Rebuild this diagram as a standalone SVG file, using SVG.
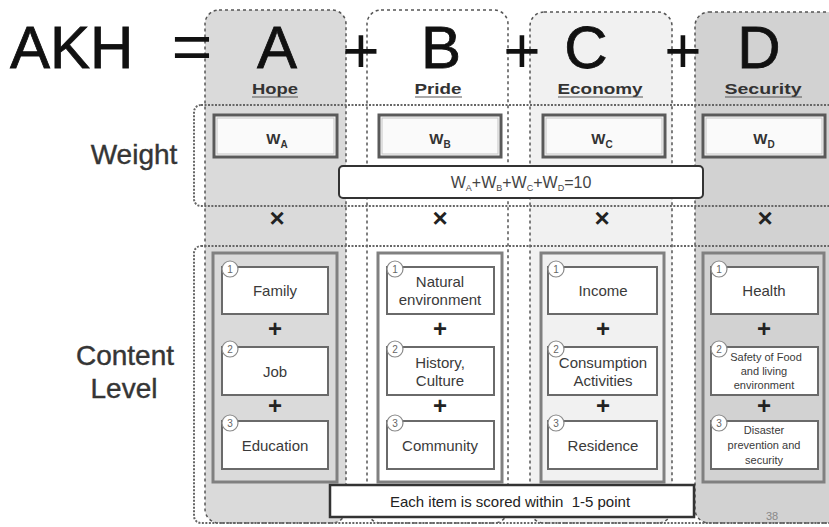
<svg xmlns="http://www.w3.org/2000/svg" width="829" height="527" viewBox="0 0 829 527">
  <style>
    text { font-family: "Liberation Sans", Arial, sans-serif; }
    .col { stroke: #555; stroke-width: 1.5; stroke-dasharray: 3 3; }
    .row { fill: none; stroke: #666; stroke-width: 2; stroke-dasharray: 2 1.5; }
    .big { font-size: 60px; fill: #111; text-anchor: middle; stroke: #111; stroke-width: 0.8; }
    .op { font-size: 64px; fill: #111; text-anchor: middle; }
    .sub { font-size: 15px; font-weight: bold; fill: #333; text-anchor: middle; }
    .uline { stroke: #555; stroke-width: 1.2; }
    .side { font-size: 28px; fill: #353535; text-anchor: middle; stroke: #353535; stroke-width: 0.4; }
    .wbox { fill: #fafafa; stroke: #5a5a5a; stroke-width: 3; }
    .wbin { fill: none; stroke: #c4c4c4; stroke-width: 1; }
    .wt { font-size: 15px; font-weight: bold; fill: #333; text-anchor: middle; }
    .times { font-size: 26px; font-weight: bold; fill: #222; text-anchor: middle; }
    .inner { fill: none; stroke: #808080; stroke-width: 3; }
    .item { fill: #fff; stroke: #6a6a6a; stroke-width: 2; }
    .it { font-size: 15px; fill: #3a3a3a; text-anchor: middle; }
    .its { font-size: 11px; fill: #3a3a3a; text-anchor: middle; }
    .num { fill: #fff; stroke: #8a8a8a; stroke-width: 1.2; }
    .nt { font-size: 10px; fill: #666; text-anchor: middle; }
    .plus { font-size: 24px; font-weight: bold; fill: #222; text-anchor: middle; }
    .note { fill: #fff; stroke: #333; stroke-width: 2.5; }
  </style>

  <rect width="829" height="527" fill="#fff"/>

  <!-- column backgrounds -->
  <g id="columns">
    <rect id="col-a" class="col" x="205" y="10" width="141" height="513" rx="14" fill="#dadada"/>
    <rect id="col-b" class="col" x="367" y="10" width="141" height="513" rx="14" fill="#ffffff"/>
    <rect id="col-c" class="col" x="530" y="12" width="142" height="511" rx="14" fill="#f1f1f1"/>
    <rect id="col-d" class="col" x="695" y="12" width="150" height="511" rx="14" fill="#d2d2d2"/>
  </g>

  <!-- equation header -->
  <g id="equation">
    <text x="10" y="68" font-size="60" fill="#111" stroke="#111" stroke-width="0.8">AKH</text>
    <text x="192" y="69" class="op" textLength="41" lengthAdjust="spacingAndGlyphs">=</text>
    <text x="277" y="68" class="big">A</text>
    <text x="361" y="73" class="op">+</text>
    <text x="441" y="68" class="big">B</text>
    <text x="522" y="73" class="op">+</text>
    <text x="586" y="68" class="big">C</text>
    <text x="683" y="73" class="op">+</text>
    <text x="759" y="68" class="big">D</text>
  </g>

  <!-- factor names -->
  <g id="factor-names">
    <text x="275" y="94" class="sub" textLength="46" lengthAdjust="spacingAndGlyphs">Hope</text>
    <line class="uline" x1="252" y1="97" x2="298" y2="97"/>
    <text x="438" y="94" class="sub" textLength="47" lengthAdjust="spacingAndGlyphs">Pride</text>
    <line class="uline" x1="415" y1="97" x2="462" y2="97"/>
    <text x="600" y="94" class="sub" textLength="85" lengthAdjust="spacingAndGlyphs">Economy</text>
    <line class="uline" x1="558" y1="97" x2="643" y2="97"/>
    <text x="763" y="94" class="sub" textLength="77" lengthAdjust="spacingAndGlyphs">Security</text>
    <line class="uline" x1="725" y1="97" x2="802" y2="97"/>
  </g>

  <!-- row frames -->
  <g id="rows">
    <rect class="row" x="194" y="105" width="650" height="101" rx="7"/>
    <rect class="row" x="194" y="246" width="650" height="277" rx="7"/>
  </g>

  <!-- side labels -->
  <g id="labels">
    <text x="134" y="164" class="side">Weight</text>
    <text x="125" y="365" class="side">Content</text>
    <text x="124" y="398" class="side">Level</text>
  </g>

  <!-- weight boxes -->
  <g id="weight-a">
    <rect class="wbox" x="214" y="115" width="123" height="42"/>
    <rect class="wbin" x="217" y="118" width="117" height="36"/>
    <text x="277" y="144" class="wt">W<tspan font-size="10" dy="4">A</tspan></text>
  </g>
  <g id="weight-b">
    <rect class="wbox" x="379" y="115" width="122" height="42"/>
    <rect class="wbin" x="382" y="118" width="116" height="36"/>
    <text x="440" y="144" class="wt">W<tspan font-size="10" dy="4">B</tspan></text>
  </g>
  <g id="weight-c">
    <rect class="wbox" x="543" y="115" width="122" height="42"/>
    <rect class="wbin" x="546" y="118" width="116" height="36"/>
    <text x="602" y="144" class="wt">W<tspan font-size="10" dy="4">C</tspan></text>
  </g>
  <g id="weight-d">
    <rect class="wbox" x="703" y="115" width="122" height="42"/>
    <rect class="wbin" x="706" y="118" width="116" height="36"/>
    <text x="764" y="144" class="wt">W<tspan font-size="10" dy="4">D</tspan></text>
  </g>

  <!-- weight constraint -->
  <g id="weight-sum">
    <rect x="339" y="166" width="364" height="32" rx="4" fill="#fff" stroke="#333" stroke-width="2"/>
    <text x="521" y="188" font-size="16" fill="#444" text-anchor="middle">W<tspan font-size="9" dy="3">A</tspan><tspan dy="-3">+W</tspan><tspan font-size="9" dy="3">B</tspan><tspan dy="-3">+W</tspan><tspan font-size="9" dy="3">C</tspan><tspan dy="-3">+W</tspan><tspan font-size="9" dy="3">D</tspan><tspan dy="-3">=10</tspan></text>
  </g>

  <!-- multiplication signs -->
  <g id="times">
    <text x="277" y="227" class="times">×</text>
    <text x="440" y="227" class="times">×</text>
    <text x="602" y="227" class="times">×</text>
    <text x="765" y="227" class="times">×</text>
  </g>

  <!-- content column A -->
  <g id="content-a">
    <rect class="inner" x="213" y="253" width="124" height="229"/>
    <rect class="item" x="222" y="267" width="106" height="47"/>
    <rect class="item" x="222" y="347" width="106" height="48"/>
    <rect class="item" x="222" y="421" width="106" height="48"/>
    <circle class="num" cx="230" cy="269" r="8"/><text x="230" y="273" class="nt">1</text>
    <circle class="num" cx="230" cy="349" r="8"/><text x="230" y="353" class="nt">2</text>
    <circle class="num" cx="230" cy="423" r="8"/><text x="230" y="427" class="nt">3</text>
    <text x="275" y="296" class="it">Family</text>
    <text x="275" y="377" class="it">Job</text>
    <text x="275" y="451" class="it">Education</text>
    <text x="275" y="337" class="plus">+</text>
    <text x="275" y="414" class="plus">+</text>
  </g>

  <!-- content column B -->
  <g id="content-b">
    <rect class="inner" x="378" y="253" width="124" height="229"/>
    <rect class="item" x="387" y="267" width="107" height="47"/>
    <rect class="item" x="387" y="347" width="107" height="48"/>
    <rect class="item" x="387" y="421" width="107" height="48"/>
    <circle class="num" cx="395" cy="269" r="8"/><text x="395" y="273" class="nt">1</text>
    <circle class="num" cx="395" cy="349" r="8"/><text x="395" y="353" class="nt">2</text>
    <circle class="num" cx="395" cy="423" r="8"/><text x="395" y="427" class="nt">3</text>
    <text x="440" y="287" class="it" font-size="14">Natural</text>
    <text x="440" y="305" class="it" font-size="14">environment</text>
    <text x="440" y="368" class="it" font-size="14">History,</text>
    <text x="440" y="386" class="it" font-size="14">Culture</text>
    <text x="440" y="451" class="it">Community</text>
    <text x="440" y="337" class="plus">+</text>
    <text x="440" y="414" class="plus">+</text>
  </g>

  <!-- content column C -->
  <g id="content-c">
    <rect class="inner" x="541" y="253" width="123" height="229"/>
    <rect class="item" x="548" y="267" width="109" height="47"/>
    <rect class="item" x="548" y="347" width="109" height="48"/>
    <rect class="item" x="548" y="421" width="109" height="48"/>
    <circle class="num" cx="556" cy="269" r="8"/><text x="556" y="273" class="nt">1</text>
    <circle class="num" cx="556" cy="349" r="8"/><text x="556" y="353" class="nt">2</text>
    <circle class="num" cx="556" cy="423" r="8"/><text x="556" y="427" class="nt">3</text>
    <text x="603" y="296" class="it">Income</text>
    <text x="603" y="368" class="it">Consumption</text>
    <text x="603" y="386" class="it">Activities</text>
    <text x="603" y="451" class="it">Residence</text>
    <text x="603" y="337" class="plus">+</text>
    <text x="603" y="414" class="plus">+</text>
  </g>

  <!-- content column D -->
  <g id="content-d">
    <rect class="inner" x="703" y="253" width="121" height="229"/>
    <rect class="item" x="711" y="267" width="107" height="47"/>
    <rect class="item" x="711" y="347" width="107" height="48"/>
    <rect class="item" x="711" y="421" width="107" height="48"/>
    <circle class="num" cx="719" cy="269" r="8"/><text x="719" y="273" class="nt">1</text>
    <circle class="num" cx="719" cy="349" r="8"/><text x="719" y="353" class="nt">2</text>
    <circle class="num" cx="719" cy="423" r="8"/><text x="719" y="427" class="nt">3</text>
    <text x="764" y="296" class="it">Health</text>
    <text x="766" y="361" class="its">Safety of Food</text>
    <text x="764" y="375" class="its">and living</text>
    <text x="764" y="389" class="its">environment</text>
    <text x="764" y="434" class="its">Disaster</text>
    <text x="764" y="449" class="its">prevention and</text>
    <text x="764" y="464" class="its">security</text>
    <text x="764" y="337" class="plus">+</text>
    <text x="764" y="414" class="plus">+</text>
  </g>

  <!-- scoring note -->
  <g id="score-note">
    <rect class="note" x="330" y="485" width="364" height="32"/>
    <text x="510" y="507" font-size="15" fill="#222" text-anchor="middle" xml:space="preserve">Each item is scored within  1-5 point</text>
  </g>

  <text x="772" y="520" font-size="11" fill="#888" text-anchor="middle">38</text>
</svg>
